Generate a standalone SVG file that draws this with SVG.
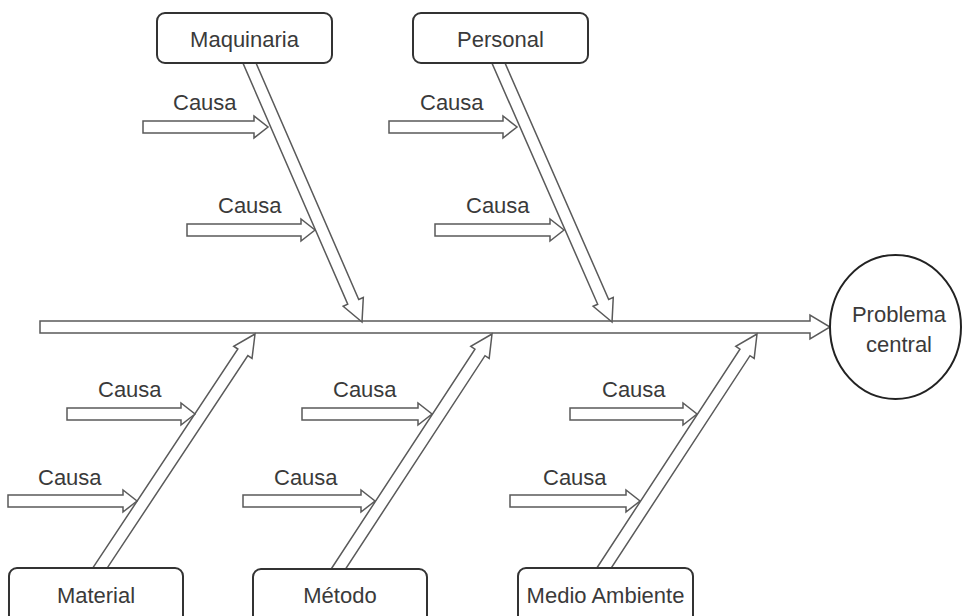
<svg xmlns="http://www.w3.org/2000/svg" width="963" height="616" viewBox="0 0 963 616">
<style>
.arr{fill:#fff;stroke:#5a5a5a;stroke-width:1.5;stroke-linejoin:miter}
.box{fill:#fff;stroke:#333;stroke-width:2}
.lbl{font-family:"Liberation Sans",Arial,sans-serif;font-size:22px;fill:#3a3a3a}
.c{text-anchor:middle}
</style>
<rect width="963" height="616" fill="#fff"/>
<g id="connectors">
<path id="spine" class="arr" d="M40,321 H810 V315 L830,327 L810,339 V333 H40 Z"/>
<path class="arr" transform="translate(249,62) rotate(66.51)" d="M-15,-6 H261.5 V-11 L283.5,0 L261.5,11 V6 H-15 Z"/>
<path class="arr" transform="translate(498,62) rotate(66.32)" d="M-15,-6 H261.9 V-11 L283.9,0 L261.9,11 V6 H-15 Z"/>
<path class="arr" transform="translate(100,568) rotate(-56.48)" d="M-15,-6 H258.7 V-11 L280.7,0 L258.7,11 V6 H-15 Z"/>
<path class="arr" transform="translate(339,568) rotate(-56.82)" d="M-15,-6 H257.6 V-11 L279.6,0 L257.6,11 V6 H-15 Z"/>
<path class="arr" transform="translate(604,568) rotate(-56.82)" d="M-15,-6 H257.6 V-11 L279.6,0 L257.6,11 V6 H-15 Z"/>
<path class="arr" d="M143,121 H254 V116 L268,127 L254,138 V133 H143 Z"/>
<path class="arr" d="M187,224 H301 V219 L315,230 L301,241 V236 H187 Z"/>
<path class="arr" d="M389,121 H503 V116 L517,127 L503,138 V133 H389 Z"/>
<path class="arr" d="M435,224 H550 V219 L564,230 L550,241 V236 H435 Z"/>
<path class="arr" d="M67,408 H181 V403 L195,414 L181,425 V420 H67 Z"/>
<path class="arr" d="M8,495 H123 V490 L137,501 L123,512 V507 H8 Z"/>
<path class="arr" d="M302,408 H418 V403 L432,414 L418,425 V420 H302 Z"/>
<path class="arr" d="M243,495 H361 V490 L375,501 L361,512 V507 H243 Z"/>
<path class="arr" d="M570,408 H683 V403 L697,414 L683,425 V420 H570 Z"/>
<path class="arr" d="M510,495 H626 V490 L640,501 L626,512 V507 H510 Z"/>
</g>
<g id="causes">
<text class="lbl" x="173" y="110">Causa</text>
<text class="lbl" x="218" y="213">Causa</text>
<text class="lbl" x="420" y="110">Causa</text>
<text class="lbl" x="466" y="213">Causa</text>
<text class="lbl" x="98" y="397">Causa</text>
<text class="lbl" x="38" y="485">Causa</text>
<text class="lbl" x="333" y="397">Causa</text>
<text class="lbl" x="274" y="485">Causa</text>
<text class="lbl" x="602" y="397">Causa</text>
<text class="lbl" x="543" y="485">Causa</text>
</g>
<g id="maquinaria">
<rect class="box" x="157" y="13" width="175" height="50" rx="8"/>
<text class="lbl c" x="244.5" y="47">Maquinaria</text>
</g>
<g id="personal">
<rect class="box" x="413" y="13" width="175" height="50" rx="8"/>
<text class="lbl c" x="500.5" y="47">Personal</text>
</g>
<g id="material">
<rect class="box" x="9" y="568" width="174" height="60" rx="8"/>
<text class="lbl c" x="96" y="603">Material</text>
</g>
<g id="metodo">
<rect class="box" x="253" y="569" width="174" height="60" rx="8"/>
<text class="lbl c" x="340" y="603">Método</text>
</g>
<g id="medio-ambiente">
<rect class="box" x="518" y="568" width="175" height="60" rx="8"/>
<text class="lbl c" x="605.5" y="603">Medio Ambiente</text>
</g>
<g id="problema">
<ellipse cx="895.5" cy="327" rx="65.5" ry="72" fill="#fff" stroke="#222" stroke-width="2"/>
<text class="lbl c" x="899" y="322">Problema</text>
<text class="lbl c" x="899" y="352">central</text>
</g>
</svg>
